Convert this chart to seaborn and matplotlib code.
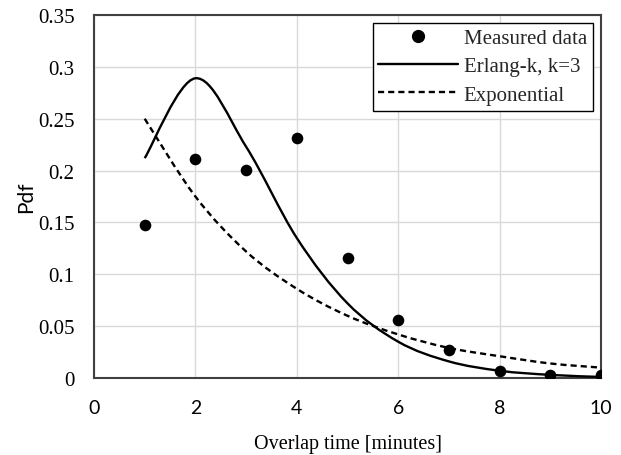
import matplotlib
matplotlib.use("Agg")
import matplotlib.pyplot as plt
from matplotlib.path import Path
from matplotlib.patches import PathPatch
from matplotlib.lines import Line2D
import numpy as np
import pandas as pd
import seaborn as sns

# Overlap time (minutes) and probability density values
overlap_min = [1, 2, 3, 4, 5, 6, 7, 8, 9, 10]
measured_pdf = [0.148, 0.211, 0.201, 0.231, 0.116, 0.056, 0.027, 0.007, 0.003, 0.003]
erlang_pdf = [0.212, 0.289, 0.223, 0.135, 0.072, 0.035, 0.016, 0.007, 0.003, 0.001]
expo_pdf = [0.250, 0.175, 0.122, 0.086, 0.060, 0.042, 0.029, 0.021, 0.014, 0.010]

x_ticks = [0, 2, 4, 6, 8, 10]
y_ticks = [0, 0.05, 0.1, 0.15, 0.2, 0.25, 0.3, 0.35]
y_tick_labels = ["0", "0.05", "0.1", "0.15", "0.2", "0.25", "0.3", "0.35"]

df = pd.DataFrame({"t": overlap_min, "measured": measured_pdf})

sns.set_theme(style="white")
plt.rcParams["font.family"] = ["Liberation Serif", "DejaVu Sans"]

fig = plt.figure(figsize=(6.21, 4.56), dpi=100)
ax = fig.add_axes([94 / 621, 1 - 379 / 456, 507 / 621, 363 / 456])


def smooth_path(xs, ys):
    """Cubic Bezier path through the points (Catmull-Rom style tangents)."""
    pts = np.column_stack([xs, ys]).astype(float)
    n = len(pts)
    verts = [pts[0]]
    codes = [Path.MOVETO]
    for i in range(n - 1):
        p0 = pts[i - 1] if i > 0 else pts[i]
        p1 = pts[i]
        p2 = pts[i + 1]
        p3 = pts[i + 2] if i + 2 < n else pts[i + 1]
        c1 = p1 + (p2 - p0) / 6.0
        c2 = p2 - (p3 - p1) / 6.0
        verts += [c1, c2, p2]
        codes += [Path.CURVE4] * 3
    return Path(verts, codes)


LW = 1.7
DASH = (0, (2.6, 1.7))
line_kw = dict(facecolor="none", edgecolor="black", linewidth=LW,
               capstyle="butt", zorder=3)
ax.add_patch(PathPatch(smooth_path(overlap_min, erlang_pdf), **line_kw))
ax.add_patch(PathPatch(smooth_path(overlap_min, expo_pdf), linestyle=DASH, **line_kw))

sns.scatterplot(data=df, x="t", y="measured", ax=ax, color="black", s=70,
                edgecolor="black", linewidth=0, zorder=4, legend=False)

ax.set_xlim(0, 10)
ax.set_ylim(0, 0.35)
ax.set_xticks(x_ticks)
ax.set_yticks(y_ticks)
ax.set_yticklabels(y_tick_labels)
ax.grid(True, color="#d9d9d9", linewidth=1.0)
ax.set_axisbelow(True)
for sp in ax.spines.values():
    sp.set_visible(True)
    sp.set_color("#404040")
    sp.set_linewidth(1.5)
ax.tick_params(axis="both", length=0)
ax.tick_params(axis="y", pad=14, labelsize=15, labelcolor="black")
ax.tick_params(axis="x", pad=15, labelcolor="black")
for lab in ax.get_xticklabels():
    lab.set_family(["Lato", "DejaVu Sans"])
    lab.set_fontsize(14)
for lab in ax.get_yticklabels():
    lab.set_family(["Liberation Serif", "DejaVu Serif"])

ax.set_xlabel("Overlap time [minutes]", fontsize=14.5, color="black", labelpad=13,
              family=["Liberation Serif", "DejaVu Serif"])
ax.set_ylabel("Pdf", fontsize=15, color="black", labelpad=1,
              family=["Lato", "DejaVu Sans"])

handles = [
    Line2D([], [], color="black", marker="o", linestyle="none", markersize=8.5),
    Line2D([], [], color="black", linewidth=LW),
    Line2D([], [], color="black", linewidth=LW, linestyle=DASH),
]
labels = ["Measured data", "Erlang-k, k=3", "Exponential"]
leg = ax.legend(handles, labels, loc="upper right", bbox_to_anchor=(0.984, 0.979),
                fancybox=False, frameon=True, edgecolor="black", framealpha=1,
                fontsize=15, handlelength=3.8, handletextpad=0.3,
                labelspacing=0.42, borderpad=0.28, borderaxespad=0.0)
leg.get_frame().set_linewidth(1.0)

fig.savefig("out.png", dpi=100)
